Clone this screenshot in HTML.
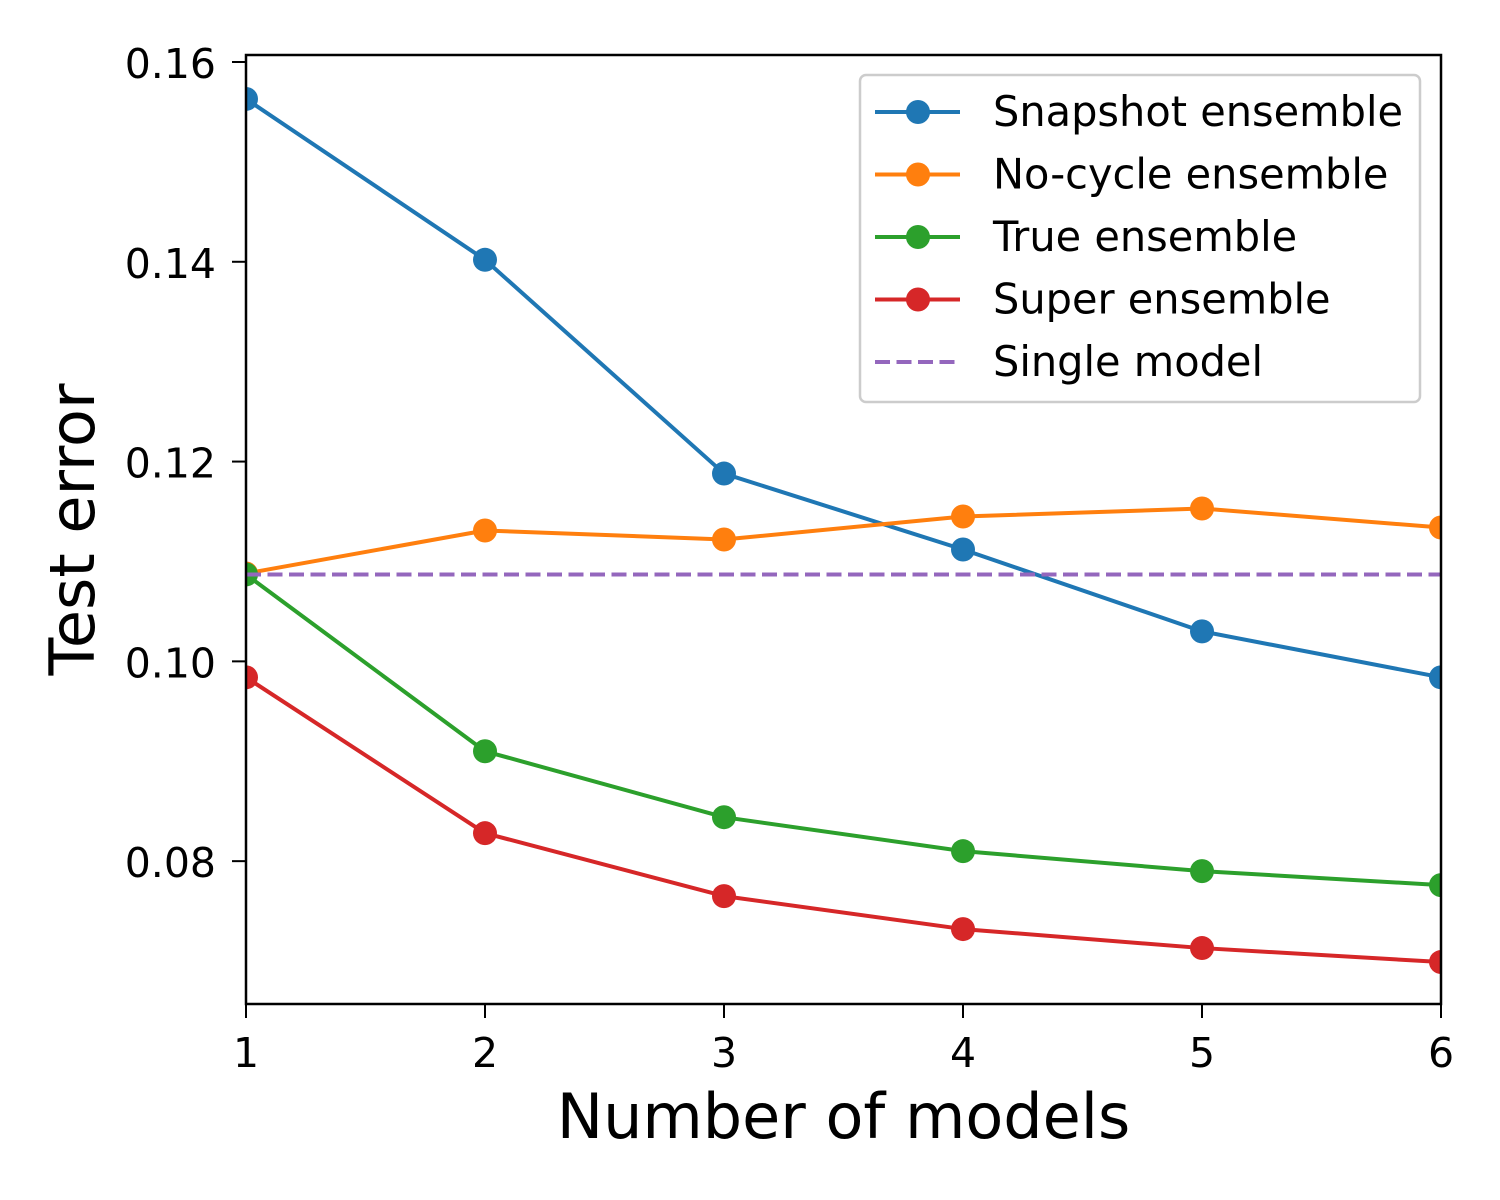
<!DOCTYPE html>
<html><head><meta charset="utf-8"><style>
html,body{margin:0;padding:0;background:#fff;}
svg{display:block;font-family:"DejaVu Sans","Liberation Sans",sans-serif;}
</style></head><body>
<svg id="chart" width="1500" height="1200" viewBox="0 0 1500 1200">
<rect width="1500" height="1200" fill="#fff"/>
<g id="plot"></g>
</svg>
<script>
const xCategories = [1, 2, 3, 4, 5, 6];
const snapshotValues = [0.1563, 0.1402, 0.1188, 0.1112, 0.1030, 0.0984];
const noCycleValues = [0.1088, 0.1131, 0.1122, 0.1145, 0.1153, 0.1134];
const trueValues = [0.1087, 0.0910, 0.0844, 0.0810, 0.0790, 0.0776];
const superValues = [0.0984, 0.0828, 0.0765, 0.0732, 0.0713, 0.0699];
const singleModelValue = 0.1087;
const yTicks = [0.08, 0.10, 0.12, 0.14, 0.16];
const yTickLabels = ["0.08", "0.10", "0.12", "0.14", "0.16"];
const xTickLabels = ["1", "2", "3", "4", "5", "6"];
const seriesNames = ["Snapshot ensemble", "No-cycle ensemble", "True ensemble", "Super ensemble", "Single model"];

const NS = "http://www.w3.org/2000/svg";
const L = 246, R = 1441, T = 55, B = 1004;
const xMin = 1, xMax = 6, yMin = 0.0657, yMax = 0.1607;
const xs = v => L + (v - xMin) / (xMax - xMin) * (R - L);
const ys = v => B - (v - yMin) / (yMax - yMin) * (B - T);
const g = document.getElementById('plot');
function mk(tag, attrs, parent) {
  const e = document.createElementNS(NS, tag);
  for (const k in attrs) e.setAttribute(k, attrs[k]);
  (parent || g).appendChild(e);
  return e;
}
const clip = mk('clipPath', {id: 'clip'});
mk('rect', {x: L, y: T, width: R - L, height: B - T}, clip);

const colors = ["#1f77b4", "#ff7f0e", "#2ca02c", "#d62728"];
const series = [snapshotValues, noCycleValues, trueValues, superValues];
const names = ["snapshot", "no-cycle", "true", "super"];
const dataG = mk('g', {'clip-path': 'url(#clip)'});
series.forEach((vals, i) => {
  const pts = vals.map((v, j) => xs(xCategories[j]) + ',' + ys(v)).join(' ');
  const pl = mk('polyline', {points: pts, fill: 'none', stroke: colors[i], 'stroke-width': 4, 'stroke-linejoin': 'round'}, dataG);
  
  
  vals.forEach((v, j) => {
    const c = mk('circle', {cx: xs(xCategories[j]), cy: ys(v), r: 12, fill: colors[i]}, dataG);
    
    
  });
});
const sl = mk('line', {x1: L, x2: R, y1: ys(singleModelValue), y2: ys(singleModelValue), stroke: '#9467bd', 'stroke-width': 4, 'stroke-dasharray': '15,6.5'}, dataG);



const frame = mk('rect', {x: L, y: T, width: R - L, height: B - T, fill: 'none', stroke: '#000', 'stroke-width': 2.5});



yTicks.forEach((v, i) => {
  const y = ys(v);
  mk('line', {x1: L - 14, x2: L, y1: y, y2: y, stroke: '#000', 'stroke-width': 2});
  const t = mk('text', {x: L - 30, y: y + 16, 'text-anchor': 'end', 'font-size': 41, fill: '#000'});
  t.textContent = yTickLabels[i];
  
  
});
xCategories.forEach((v, i) => {
  const x = xs(v);
  mk('line', {x1: x, x2: x, y1: B, y2: B + 14, stroke: '#000', 'stroke-width': 2});
  const t = mk('text', {x: x, y: 1067, 'text-anchor': 'middle', 'font-size': 41, fill: '#000'});
  t.textContent = xTickLabels[i];
  
  
});
const xt = mk('text', {x: (L + R) / 2, y: 1138, 'text-anchor': 'middle', 'font-size': 62, fill: '#000'});
xt.textContent = 'Number of models';


const yt = mk('text', {x: 0, y: 0, 'text-anchor': 'middle', 'font-size': 62, fill: '#000', transform: 'translate(94,' + ((T + B) / 2) + ') rotate(-90)'});
yt.textContent = 'Test error';



const leg = mk('g', {});


mk('rect', {x: 860, y: 75, width: 560, height: 327, rx: 6, fill: '#fff', 'fill-opacity': 0.8, stroke: '#ccc', 'stroke-width': 2.5}, leg);
const legColors = colors.concat(['#9467bd']);
seriesNames.forEach((n, i) => {
  const y = 112 + i * 62.5;
  const en = mk('g', {}, leg);
  
  
  if (i < 4) {
    mk('line', {x1: 875, x2: 960, y1: y, y2: y, stroke: legColors[i], 'stroke-width': 4}, en);
    mk('circle', {cx: 918, cy: y, r: 12, fill: legColors[i]}, en);
  } else {
    mk('line', {x1: 875, x2: 960, y1: y, y2: y, stroke: legColors[i], 'stroke-width': 4, 'stroke-dasharray': '15,6.5'}, en);
  }
  const t = mk('text', {x: 993, y: y + 14, 'font-size': 41.5, fill: '#000'}, en);
  t.textContent = n;
});
</script>
</body></html>
